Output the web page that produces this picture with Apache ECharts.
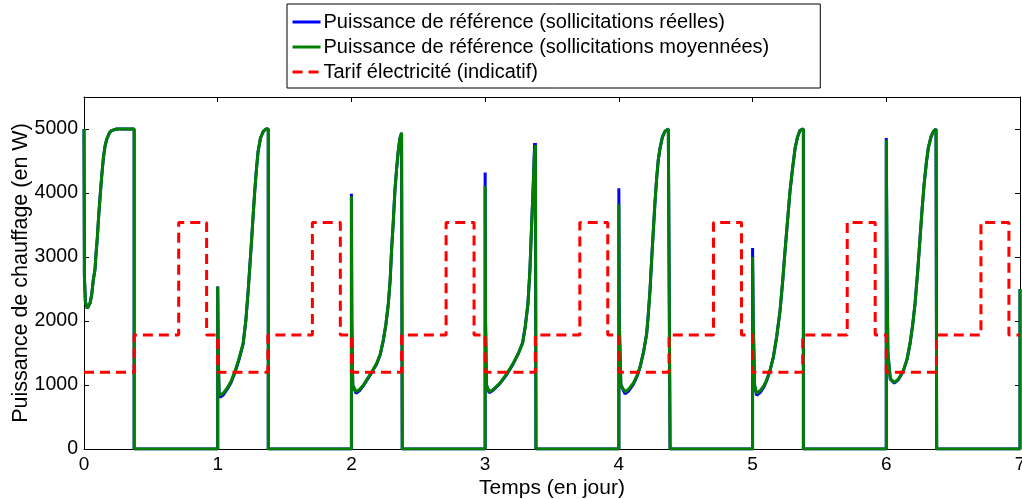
<!DOCTYPE html>
<html>
<head>
<meta charset="utf-8">
<script src="https://cdn.jsdelivr.net/npm/echarts@6/dist/echarts.min.js"></script>
<style>
  html, body { margin: 0; padding: 0; background: #fff; }
  #chart { width: 1022px; height: 499px; }
</style>
</head>
<body>
<div id="chart"></div>
<script>
// temps en jours, puissance en W
const temps = [
  0, 0.003, 0.01, 0.025, 0.045, 0.057, 0.07, 0.082, 0.09, 0.1, 0.11, 0.12, 0.133, 0.145, 0.158, 0.17, 0.19, 0.206, 0.243, 0.375, 0.375,
  1.0, 1.0, 1.004, 1.01, 1.017, 1.04, 1.07, 1.1, 1.13, 1.16, 1.19, 1.21, 1.228, 1.24, 1.253, 1.265, 1.277, 1.29, 1.302, 1.32, 1.34, 1.36, 1.378, 1.378,
  2.0, 2.0, 2.003, 2.01, 2.034, 2.06, 2.09, 2.114, 2.15, 2.189, 2.215, 2.238, 2.258, 2.276, 2.29, 2.3, 2.313, 2.325, 2.338, 2.35, 2.362, 2.375, 2.38, 2.38,
  3.0, 3.0, 3.003, 3.01, 3.03, 3.06, 3.11, 3.16, 3.21, 3.25, 3.28, 3.3, 3.32, 3.335, 3.345, 3.36, 3.37, 3.372, 3.376, 3.38, 3.38,
  4.0, 4.0, 4.003, 4.015, 4.046, 4.075, 4.108, 4.135, 4.159, 4.185, 4.208, 4.22, 4.233, 4.245, 4.258, 4.27, 4.283, 4.295, 4.308, 4.325, 4.345, 4.37, 4.383, 4.383,
  5.0, 5.0, 5.005, 5.015, 5.03, 5.06, 5.085, 5.106, 5.13, 5.156, 5.18, 5.206, 5.225, 5.243, 5.262, 5.28, 5.3, 5.318, 5.337, 5.355, 5.38, 5.38,
  6.0, 6.0, 6.005, 6.012, 6.03, 6.06, 6.09, 6.128, 6.155, 6.178, 6.198, 6.215, 6.235, 6.253, 6.268, 6.283, 6.3, 6.315, 6.335, 6.352, 6.372, 6.377, 6.377,
  7.0, 7.0
];

const puissanceMoyennes = [
  5000, 2700, 2300, 2200, 2280, 2400, 2650, 2800, 3050, 3310, 3650, 3930, 4280, 4550, 4740, 4840, 4940, 4975, 5000, 5000, 0,
  0, 2540, 1500, 900, 840, 870, 950, 1060, 1220, 1420, 1650, 2000, 2480, 2850, 3250, 3650, 4030, 4380, 4650, 4860, 4960, 5000, 5000, 0,
  0, 3950, 2000, 1000, 895, 930, 1000, 1080, 1200, 1340, 1480, 1700, 1950, 2270, 2650, 3100, 3550, 4030, 4380, 4650, 4850, 4940, 4940, 0,
  0, 4110, 2000, 1000, 895, 930, 1030, 1170, 1340, 1500, 1650, 1900, 2270, 2800, 3360, 4140, 4700, 4000, 4750, 4750, 0,
  0, 3825, 2000, 1000, 895, 940, 1030, 1140, 1285, 1520, 1800, 2100, 2480, 2950, 3420, 3850, 4240, 4520, 4700, 4870, 4965, 5000, 5000, 0,
  0, 3000, 2000, 1000, 870, 920, 990, 1080, 1230, 1440, 1750, 2170, 2620, 3100, 3580, 4030, 4400, 4700, 4880, 4980, 5000, 0,
  0, 4830, 3000, 1500, 1100, 1040, 1090, 1230, 1400, 1650, 1950, 2270, 2780, 3310, 3750, 4140, 4480, 4710, 4880, 4960, 5000, 5000, 0,
  0, 2500
];

const puissanceReelles = [
  5000, 2700, 2300, 2200, 2280, 2400, 2650, 2800, 3050, 3310, 3650, 3930, 4280, 4550, 4740, 4840, 4940, 4975, 5000, 5000, 0,
  0, 2540, 1500, 880, 810, 840, 930, 1040, 1200, 1400, 1640, 2000, 2480, 2850, 3250, 3650, 4030, 4380, 4650, 4860, 4960, 5000, 5000, 0,
  0, 3990, 2000, 1000, 870, 910, 990, 1070, 1190, 1330, 1470, 1690, 1950, 2270, 2650, 3100, 3550, 4030, 4380, 4650, 4850, 4940, 4940, 0,
  0, 4320, 2000, 1000, 880, 920, 1020, 1160, 1330, 1500, 1660, 1920, 2270, 2800, 3360, 4140, 4780, 4000, 4780, 4780, 0,
  0, 4075, 2000, 1000, 860, 910, 1010, 1130, 1280, 1520, 1800, 2100, 2480, 2950, 3420, 3850, 4240, 4520, 4700, 4870, 4965, 5000, 5000, 0,
  0, 3140, 2000, 1000, 840, 890, 970, 1070, 1220, 1440, 1750, 2170, 2620, 3100, 3580, 4030, 4400, 4700, 4880, 4980, 5000, 0,
  0, 4860, 3000, 1500, 1090, 1030, 1080, 1220, 1400, 1650, 1950, 2270, 2780, 3310, 3750, 4140, 4480, 4710, 4880, 4960, 5000, 5000, 0,
  0, 2500
];

// tarif : changements de palier (jours) et valeur du palier qui commence
const tarifTemps = [
  0, 0.375, 0.708, 0.917,
  1, 1.375, 1.708, 1.917,
  2, 2.375, 2.708, 2.917,
  3, 3.375, 3.708, 3.917,
  4, 4.375, 4.708, 4.917,
  5, 5.375, 5.708, 5.917,
  6, 6.375, 6.708, 6.917,
  7
];
const tarifValeurs = [
  1200, 1780, 3540, 1780,
  1200, 1780, 3540, 1780,
  1200, 1780, 3540, 1780,
  1200, 1780, 3540, 1780,
  1200, 1780, 3540, 1780,
  1200, 1780, 3540, 1780,
  1200, 1780, 3540, 1780,
  1780
];

const xTicks = [0, 1, 2, 3, 4, 5, 6, 7];
const yTicks = [0, 1000, 2000, 3000, 4000, 5000];

const zip = (xs, ys) => xs.map((x, i) => [x, ys[i]]);

const chart = echarts.init(document.getElementById("chart"));

const font = "Liberation Sans, Arial, sans-serif";
const tickStyle = { show: true, inside: true, length: 5, lineStyle: { color: "#000", width: 1 } };
const lineAxis = { show: true, onZero: false, lineStyle: { color: "#000", width: 1 } };

chart.setOption({
  animation: false,
  backgroundColor: "#fff",
  textStyle: { fontFamily: font },
  grid: { left: 84, right: 2, top: 97, bottom: 50, containLabel: false, outerBoundsMode: "none" },
  legend: {
    orient: "vertical",
    left: 287,
    top: 4,
    itemWidth: 28,
    itemHeight: 14,
    itemGap: 5,
    padding: [8, 51, 6, 4],
    borderColor: "#000",
    borderWidth: 1,
    backgroundColor: "#fff",
    itemStyle: { opacity: 0 },
    lineStyle: { width: 3 },
    textStyle: { fontFamily: font, fontSize: 20, color: "#000", padding: [0, 0, 0, -2] },
    data: [
      "Puissance de référence (sollicitations réelles)",
      "Puissance de référence (sollicitations moyennées)",
      "Tarif électricité (indicatif)"
    ]
  },
  xAxis: [
    {
      type: "value",
      min: 0,
      max: 7,
      interval: 1,
      name: "Temps (en jour)",
      nameLocation: "middle",
      nameGap: 29,
      nameMoveOverlap: false,
      nameTextStyle: { fontFamily: font, fontSize: 21, color: "#000" },
      axisLine: lineAxis,
      axisTick: tickStyle,
      splitLine: { show: false },
      axisLabel: {
        fontFamily: font, fontSize: 19, color: "#000", margin: 6,
        formatter: (v) => (xTicks.includes(v) ? String(v) : "")
      }
    },
    {
      type: "value",
      position: "top",
      min: 0,
      max: 7,
      interval: 1,
      axisLine: lineAxis,
      axisTick: tickStyle,
      axisLabel: { show: false },
      splitLine: { show: false }
    }
  ],
  yAxis: [
    {
      type: "value",
      min: 0,
      max: 5500,
      interval: 1000,
      name: "Puissance de chauffage (en W)",
      nameLocation: "middle",
      nameGap: 52,
      nameMoveOverlap: false,
      nameTextStyle: { fontFamily: font, fontSize: 21.5, color: "#000" },
      axisLine: lineAxis,
      axisTick: tickStyle,
      splitLine: { show: false },
      axisLabel: {
        fontFamily: font, fontSize: 19.5, color: "#000", margin: 6,
        formatter: (v) => (yTicks.includes(v) ? String(v) : "")
      }
    },
    {
      type: "value",
      position: "right",
      min: 0,
      max: 5500,
      interval: 1000,
      axisLine: lineAxis,
      axisTick: tickStyle,
      axisLabel: { show: false },
      splitLine: { show: false }
    }
  ],
  series: [
    {
      name: "Puissance de référence (sollicitations réelles)",
      type: "line",
      data: zip(temps, puissanceReelles),
      showSymbol: false,
      symbol: "none",
      color: "#0000ff",
      lineStyle: { color: "#0000ff", width: 3 },
      z: 2
    },
    {
      name: "Puissance de référence (sollicitations moyennées)",
      type: "line",
      data: zip(temps, puissanceMoyennes),
      showSymbol: false,
      symbol: "none",
      color: "#008000",
      lineStyle: { color: "#008000", width: 3 },
      z: 3
    },
    {
      name: "Tarif électricité (indicatif)",
      type: "line",
      step: "end",
      data: zip(tarifTemps, tarifValeurs),
      showSymbol: false,
      symbol: "none",
      color: "#ff0000",
      lineStyle: { color: "#ff0000", width: 3, type: [10, 6] },
      z: 4
    }
  ]
});
</script>
</body>
</html>
